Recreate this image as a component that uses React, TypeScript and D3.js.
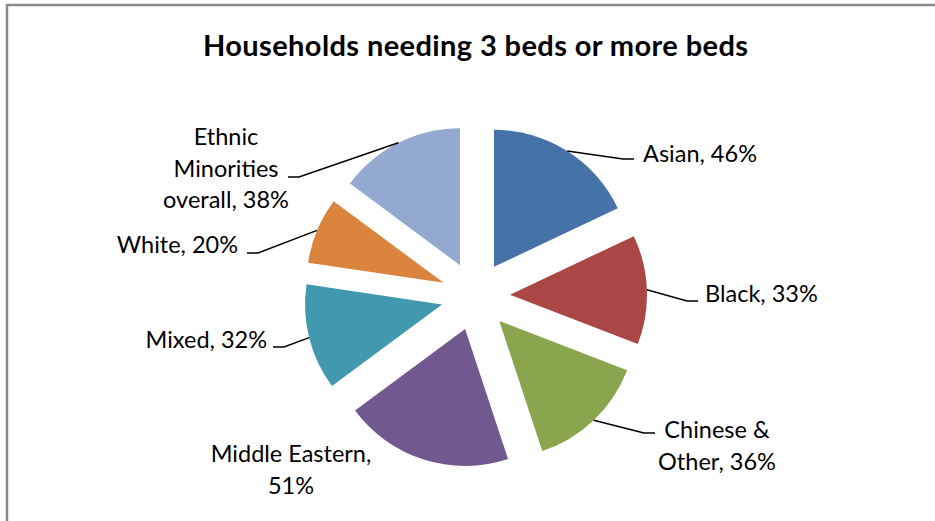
import React from "react";
import * as d3 from "d3";

const title = "Households needing 3 beds or more beds";
const categories = ["Asian", "Black", "Chinese & Other", "Middle Eastern", "Mixed", "White", "Ethnic Minorities overall"];
const values = [46, 33, 36, 51, 32, 20, 38];
const colors = ["#4572A7", "#AA4643", "#89A54E", "#71588F", "#4198AF", "#DB843D", "#93A9CF"];
const labelLines = [
  ["Asian, 46%"],
  ["Black, 33%"],
  ["Chinese &", "Other, 36%"],
  ["Middle Eastern,", "51%"],
  ["Mixed, 32%"],
  ["White, 20%"],
  ["Ethnic", "Minorities", "overall, 38%"],
];

// layout (relative to pie centre)
const W = 935, H = 521;
const CX = 475.5, CY = 296, R = 137, EXPLODE = 34.5;
const labelLayout = [
  { tx: 167.5, ty: -134, anchor: "start", end: [158.5, -137] },
  { tx: 229.5, ty: 6, anchor: "start", end: [222.5, 5] },
  { tx: 241.5, ty: 142, anchor: "middle", end: [179.5, 137] },
  { tx: -184.5, ty: 166, anchor: "middle", end: null },
  { tx: -208.5, ty: 52, anchor: "end", end: [-202.5, 51] },
  { tx: -237.5, ty: -43, anchor: "end", end: [-228.5, -43] },
  { tx: -249.5, ty: -151, anchor: "middle", end: [-187.5, -119] },
];
const FONT = "Lato, 'Open Sans', sans-serif";

export default function App() {
  const data = categories.map((c, i) => ({ c, v: values[i], i }));
  const pie = d3.pie<any>().sort(null).value((d: any) => d.v).startAngle(0).endAngle(2 * Math.PI);
  const arcs = pie(data);
  const arcGen = d3.arc<any>().innerRadius(0).outerRadius(R);
  return (
    <svg width={W} height={H} style={{ position: "absolute", left: 0, top: 0, background: "#fff" }}>
      <rect x={0} y={0} width={W} height={H} fill="#fff" />
      <path d={`M7,${H + 5} L7,5 L${W + 5},5`} fill="none" stroke="#8a8a8a" strokeWidth={2.5} />
      <text x={CX} y={56} textAnchor="middle" fontFamily={FONT} fontWeight="bold" fontSize={29} fill="#000"
        textLength={545} lengthAdjust="spacing">
        {title}
      </text>
      <g transform={`translate(${CX},${CY})`}>
        {arcs.map((a: any, i: number) => {
          const mid = (a.startAngle + a.endAngle) / 2;
          const ox = Math.sin(mid) * EXPLODE, oy = -Math.cos(mid) * EXPLODE;
          return (
            <path key={i} d={arcGen(a) as string} transform={`translate(${ox},${oy})`} fill={colors[i]} />
          );
        })}
        {arcs.map((a: any, i: number) => {
          const mid = (a.startAngle + a.endAngle) / 2;
          const rr = R + EXPLODE;
          const sx = Math.sin(mid) * rr, sy = -Math.cos(mid) * rr;
          const L = labelLayout[i];
          const lines = labelLines[i];
          let leader = null;
          if (L.end) {
            const [ex, ey] = L.end;
            const elbowX = ex + (ex > 0 ? -11 : 11);
            leader = (
              <polyline points={`${sx},${sy} ${elbowX},${ey} ${ex},${ey}`} fill="none" stroke="#000" strokeWidth={1.5} />
            );
          }
          return (
            <g key={"l" + i}>
              {leader}
              <text x={L.tx} y={L.ty} textAnchor={L.anchor as any} fontFamily={FONT} fontSize={23.5} fill="#000">
                {lines.map((ln, j) => (
                  <tspan key={j} x={L.tx} dy={j === 0 ? 0 : 31.7}>
                    {ln}
                  </tspan>
                ))}
              </text>
            </g>
          );
        })}
      </g>
    </svg>
  );
}
